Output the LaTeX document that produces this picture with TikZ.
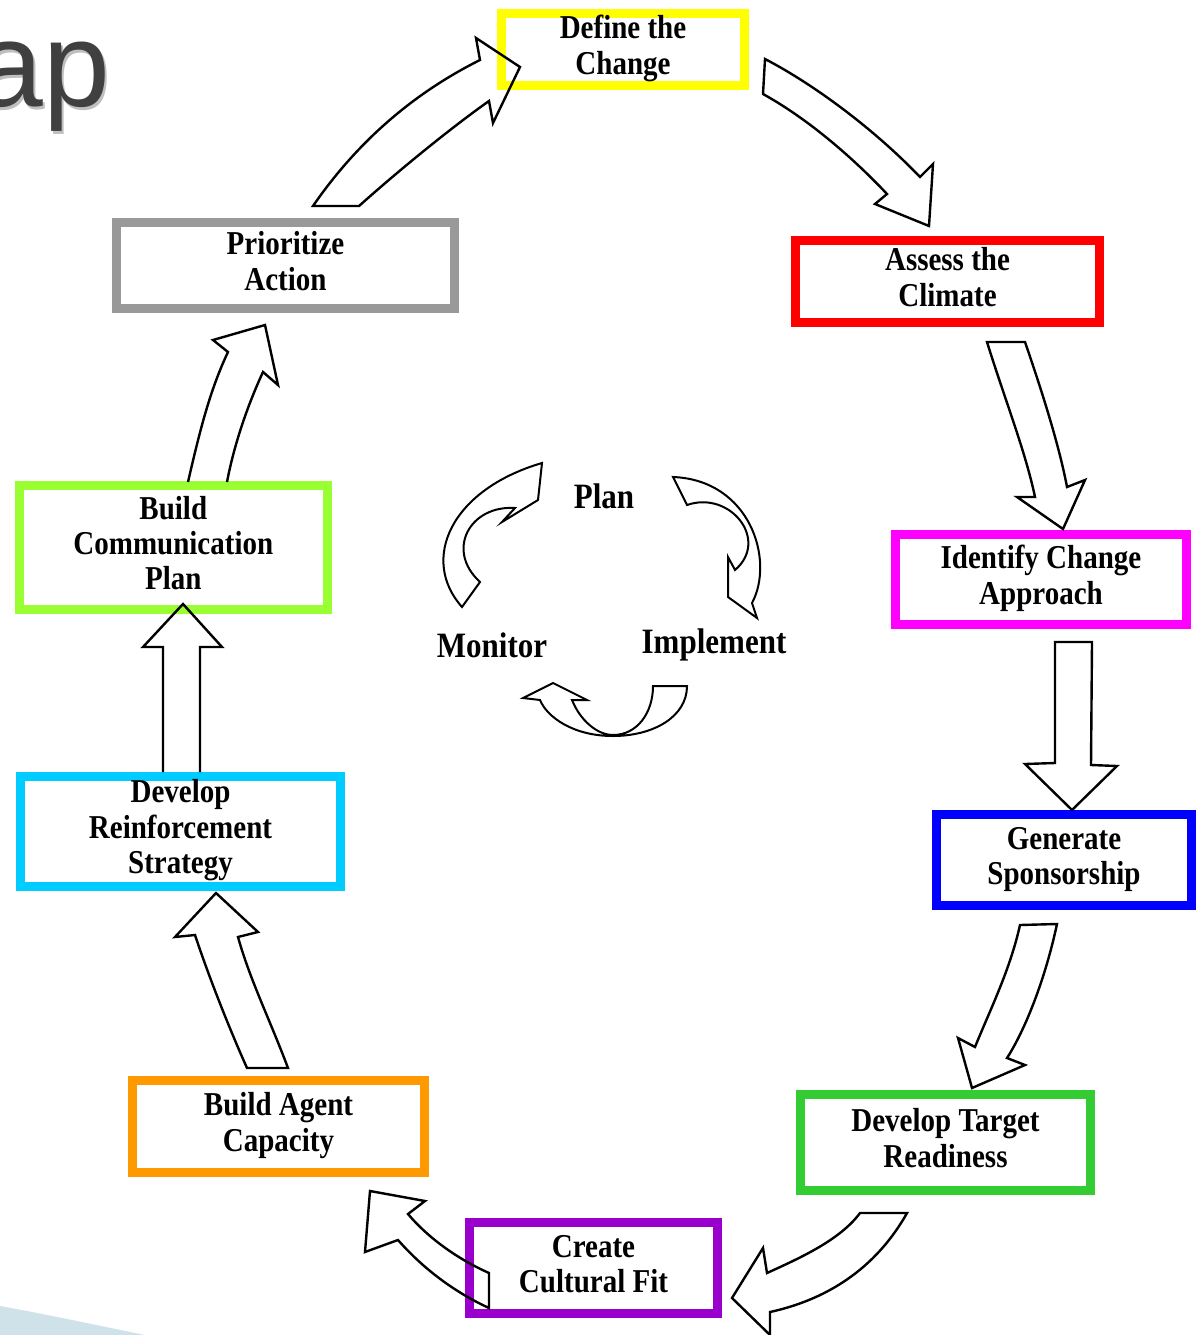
\documentclass[tikz,border=0pt]{standalone}
\usepackage{fontspec}
\setmainfont{Liberation Serif}
\newfontfamily\titlefont{Liberation Sans}
\usepackage{graphicx}
\definecolor{cyel}{HTML}{FFFF00}
\definecolor{cred}{HTML}{FF0000}
\definecolor{cmag}{HTML}{FF00FF}
\definecolor{cblu}{HTML}{0000FF}
\definecolor{cgrn}{HTML}{33CC33}
\definecolor{cpur}{HTML}{9900CC}
\definecolor{cora}{HTML}{FF9900}
\definecolor{ccya}{HTML}{00CCFF}
\definecolor{clim}{HTML}{99FF33}
\definecolor{cgry}{HTML}{999999}
\definecolor{titlegray}{HTML}{404040}
\definecolor{swooshblue}{HTML}{CFE2EA}
\newcommand\boxtext[1]{\scalebox{1}[1.15]{\begin{tabular}{@{}c@{}}#1\end{tabular}}}
\newcommand\cyctext[1]{\scalebox{1}[1.15]{#1}}
\tikzset{
  box/.style={draw=#1, line width=9pt, rectangle, inner sep=0pt, text=black,
    font=\bfseries\fontsize{29}{30.5}\selectfont},
  barrow/.style={draw=black, line width=2.4pt, line join=miter},
  carrow/.style={draw=black, line width=2pt, line join=miter},
  clabel/.style={inner sep=0pt, text=black, font=\bfseries\fontsize{31}{31}\selectfont},
}
\begin{document}
\begin{tikzpicture}[x=1pt,y=-1pt]
\useasboundingbox (0,0) rectangle (1198,1335);
\fill[white] (0,0) rectangle (1198,1335);
% background swoosh and title fragment
\fill[swooshblue] (0,1306) .. controls (50,1315) and (100,1326) .. (145,1335) -- (0,1335) -- cycle;
\node[anchor=base east, inner sep=0pt, text=black!25, font=\titlefont\fontsize{120}{120}\selectfont] (titleshadow) at (112.5,109.5) {ap};
\node[anchor=base east, inner sep=0pt, text=titlegray, font=\titlefont\fontsize{120}{120}\selectfont] (title) at (110,107) {ap};
% boxes
\node[box=cyel, minimum width=243pt, minimum height=72pt] (define) at (623,49.5) {\boxtext{Define the\\Change}};
\node[box=cred, minimum width=304pt, minimum height=82pt] (assess) at (947.5,281.5) {\boxtext{Assess the\\Climate}};
\node[box=cmag, minimum width=291pt, minimum height=90pt] (identify) at (1041,579.5) {\boxtext{Identify Change\\Approach}};
\node[box=cblu, minimum width=255pt, minimum height=91pt] (generate) at (1064,860) {\boxtext{Generate\\Sponsorship}};
\node[box=cgrn, minimum width=290pt, minimum height=96pt] (target) at (945.5,1142.5) {\boxtext{Develop Target\\Readiness}};
\node[box=cpur, minimum width=248pt, minimum height=91pt] (create) at (593.5,1268) {\boxtext{Create\\Cultural Fit}};
\node[box=cora, minimum width=292pt, minimum height=92pt] (agent) at (278.5,1126.5) {\boxtext{Build Agent\\Capacity}};
\node[box=ccya, minimum width=320pt, minimum height=110pt] (reinf) at (180.5,831) {\boxtext{Develop\\Reinforcement\\Strategy}};
\node[box=clim, minimum width=308pt, minimum height=124pt] (comm) at (173.3,547.5) {\boxtext{Build\\Communication\\Plan}};
\node[box=cgry, minimum width=338pt, minimum height=86pt] (prior) at (285.5,265.5) {\boxtext{Prioritize\\Action}};
% block arrows of the outer cycle
\draw[barrow] (313,206) .. controls (355,145) and (410,95) .. (480,60) -- (476,38) -- (520,67) -- (493,123) -- (489,101) .. controls (455,125) and (405,165) .. (359,206) -- cycle;
\draw[barrow] (765,59) .. controls (815,85) and (875,130) .. (920,177) -- (933,164) -- (929,226) -- (875,204) -- (887,194) .. controls (855,160) and (810,120) .. (763,94) -- cycle;
\draw[barrow] (987,342) -- (1025,342) .. controls (1045,400) and (1060,450) .. (1067,487) -- (1085,480) -- (1063,529) -- (1017,497) -- (1035,497) .. controls (1025,450) and (1005,400) .. (987,342) -- cycle;
\draw[barrow] (1055,642) -- (1092,642) -- (1091,765) -- (1117,766) -- (1072,810) -- (1025,764) -- (1055,763) -- cycle;
\draw[barrow] (1020,925) -- (1057,924) .. controls (1045,980) and (1025,1030) .. (1007,1058) -- (1025,1065) -- (972,1088) -- (958,1038) -- (975,1047) .. controls (990,1010) and (1010,970) .. (1020,925) -- cycle;
\draw[barrow] (860,1213) -- (907,1213) .. controls (875,1270) and (825,1300) .. (770,1312) -- (770,1335) -- (732,1298) -- (763,1248) -- (767,1273) .. controls (800,1258) and (840,1240) .. (860,1213) -- cycle;
\draw[barrow] (370,1191) -- (425,1201) -- (408,1214) .. controls (430,1240) and (460,1260) .. (489,1273) -- (489,1308) .. controls (450,1290) and (420,1265) .. (398,1240) -- (365,1252) -- cycle;
\draw[barrow] (247,1068) -- (288,1068) .. controls (270,1020) and (250,980) .. (238,937) -- (258,932) -- (216,893) -- (175,937) -- (195,935) .. controls (210,980) and (230,1030) .. (247,1068) -- cycle;
\draw[barrow] (163,772) -- (163,647) -- (143,647) -- (183,604) -- (222,647) -- (200,647) -- (200,772);
\draw[barrow] (188,482) .. controls (200,430) and (210,390) .. (228,352) -- (213,340) -- (265,325) -- (278,385) -- (263,372) .. controls (250,400) and (235,440) .. (227,482);
% inner cycle
\node[clabel] (plan) at (604,496) {\cyctext{Plan}};
\node[clabel] (monitor) at (492,645) {\cyctext{Monitor}};
\node[clabel] (implement) at (714,645) {\cyctext{Implement}};
\draw[carrow] (462,607) .. controls (420,560) and (450,490) .. (542,463) -- (538,500) -- (502,522) -- (515,508) .. controls (470,505) and (445,550) .. (480,582) -- cycle;
\draw[carrow] (673,477) -- (687,505) .. controls (730,490) and (770,540) .. (735,570) -- (728,557) -- (728,597) -- (757,618) -- (752,603) .. controls (775,560) and (750,480) .. (673,477) -- cycle;
\draw[carrow] (653,686) -- (687,686) .. controls (687,717) and (653,736) .. (613,736) .. controls (573,736) and (547,717) .. (540,700) -- (523,698) -- (553,683) -- (587,700) -- (572,700) .. controls (580,720) and (597,735) .. (613,735) .. controls (637,735) and (653,713) .. (653,686) -- cycle;
\end{tikzpicture}
\end{document}
